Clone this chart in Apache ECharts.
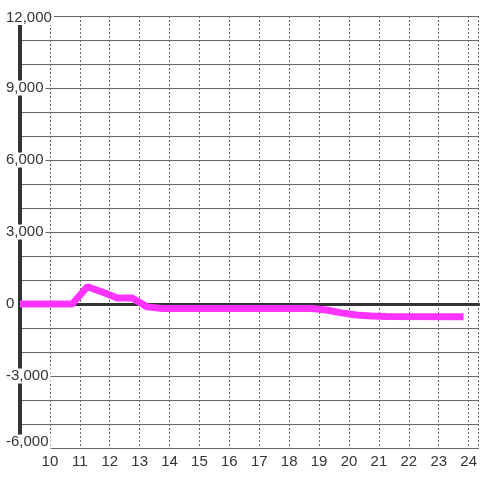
<!DOCTYPE html>
<html>
<head>
<meta charset="utf-8">
<script src="https://cdn.jsdelivr.net/npm/echarts@6/dist/echarts.min.js"></script>
<style>
  html, body { margin: 0; padding: 0; background: #fff; }
  #chart { width: 480px; height: 480px; }
</style>
</head>
<body>
<div id="chart"></div>
<script>
// hour of day and the value
var hours = [9, 10.75, 11.25, 11.75, 12.25, 12.75, 13.25, 13.75, 18.75, 19.25, 19.75, 20.25, 20.75, 21.25, 23.83]
var values = [0, 0, 720, 500, 250, 250, -120, -190, -190, -250, -370, -460, -500, -520, -530]

var points = hours.map(function (h, i) { return [h, values[i]] })

var chart = echarts.init(document.getElementById('chart'))
chart.setOption({
  backgroundColor: '#fff',
  animation: false,
  textStyle: { fontFamily: 'Liberation Sans, Arial, sans-serif' },
  grid: { left: 20, right: 0, top: 16, bottom: 32, containLabel: false },
  xAxis: [
    {
      type: 'value',
      position: 'bottom',
      min: 9,
      max: 24.333,
      interval: 1,
      axisLine: { onZero: false, lineStyle: { color: '#666', width: 1 } },
      axisTick: { show: false },
      axisLabel: {
        showMinLabel: false,
        showMaxLabel: false,
        margin: 6,
        fontSize: 15,
        color: '#333'
      },
      splitLine: { show: true, lineStyle: { color: '#666', width: 1, type: [2, 2] } }
    },
    {
      // thick line at zero
      type: 'value',
      position: 'top',
      min: 9,
      max: 24.333,
      axisLine: { show: true, onZero: true, lineStyle: { color: '#333', width: 3 } },
      axisTick: { show: false },
      axisLabel: { show: false },
      splitLine: { show: false }
    }
  ],
  yAxis: {
    type: 'value',
    min: -6000,
    max: 12000,
    interval: 3000,
    axisLine: { show: true, onZero: false, lineStyle: { color: '#333', width: 4 } },
    axisTick: { show: false },
    minorTick: { show: false, splitNumber: 3 },
    axisLabel: {
      align: 'left',
      margin: 16,
      fontSize: 15,
      color: '#333',
      backgroundColor: '#fff',
      padding: [0, 2, 0, 2],
      formatter: function (v) {
        var s = v.toLocaleString('en-US')
        // the lowest label sits just above the bottom edge
        if (v === -6000) return '{low|' + s + '}'
        if (v === 12000) return '{high|' + s + '}'
        return s
      },
      rich: {
        low: { fontSize: 15, color: '#333', padding: [0, 0, 12, 0] },
        high: { fontSize: 15, color: '#333', padding: [3, 0, 0, 0] }
      }
    },
    splitLine: { show: true, lineStyle: { color: '#666', width: 1 } },
    minorSplitLine: { show: true, lineStyle: { color: '#666', width: 1 } }
  },
  series: [{
    type: 'line',
    xAxisIndex: 0,
    data: points,
    showSymbol: false,
    symbol: 'none',
    lineStyle: { color: '#ff33ff', width: 7 },
    z: 5
  }]
})
</script>
</body>
</html>
